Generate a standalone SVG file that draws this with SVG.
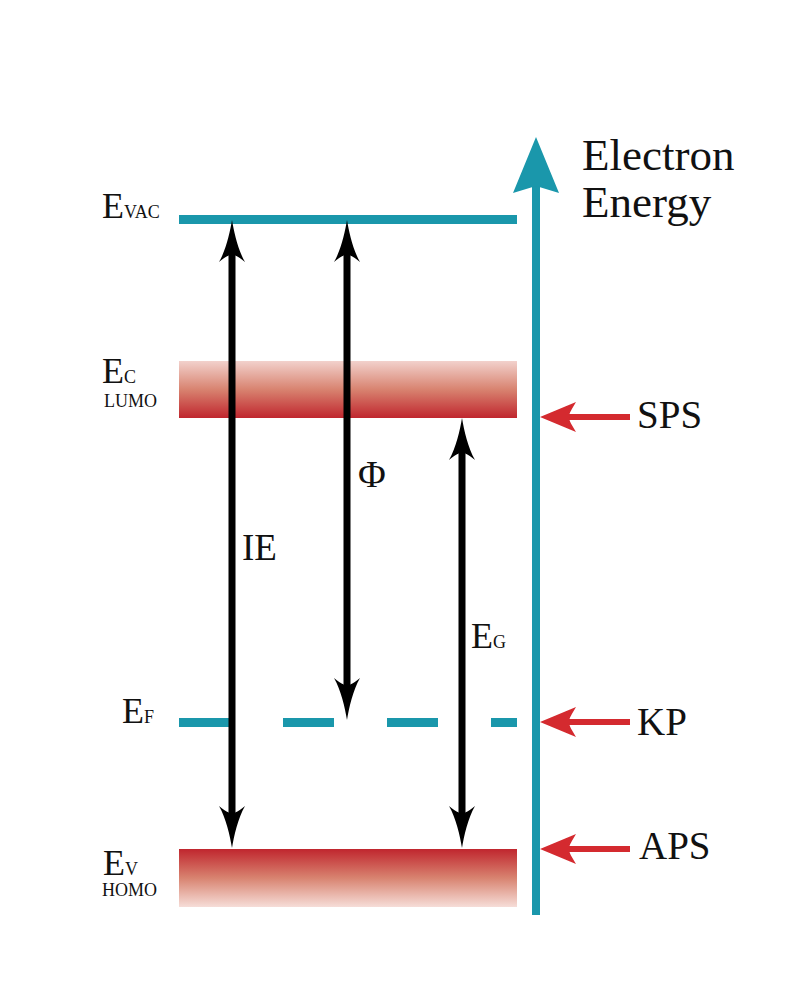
<svg xmlns="http://www.w3.org/2000/svg" width="800" height="1000" viewBox="0 0 800 1000">
  <style>
    .lbl { font-family: "Liberation Serif", "Times New Roman", serif; fill: #111; }
    .big { font-size: 36px; }
    .sc { font-size: 18px; }
    .sub { font-size: 18px; }
    .side { font-size: 39px; }
    .title { font-size: 45px; }
    .teal { stroke: #1a97ab; fill: none; }
    .blkarrow { stroke: #000; stroke-width: 7; fill: none; }
    .redarrow { stroke: #d42a2f; stroke-width: 6; fill: none; }
  </style>
  <defs>
    <linearGradient id="lumoGrad" x1="0" y1="0" x2="0" y2="1">
      <stop offset="0" stop-color="#f2d1cc"/>
      <stop offset="0.5" stop-color="#d88370"/>
      <stop offset="1" stop-color="#c0262e"/>
    </linearGradient>
    <linearGradient id="homoGrad" x1="0" y1="0" x2="0" y2="1">
      <stop offset="0" stop-color="#c0262e"/>
      <stop offset="0.5" stop-color="#d88370"/>
      <stop offset="1" stop-color="#f6ddd8"/>
    </linearGradient>
    <marker id="blk" viewBox="0 -14 43 28" refX="12" refY="0" markerWidth="43" markerHeight="28" markerUnits="userSpaceOnUse" orient="auto-start-reverse">
      <path d="M42,0 C30,-2 12,-6 0,-13 C5,-7 7,-3 8,0 C7,3 5,7 0,13 C12,6 30,2 42,0 Z" fill="#000"/>
    </marker>
    <marker id="red" viewBox="0 -16 37 32" refX="10" refY="0" markerWidth="37" markerHeight="32" markerUnits="userSpaceOnUse" orient="auto">
      <path d="M36,0 L0,-15 C4,-8 7,-4 7,0 C7,4 4,8 0,15 Z" fill="#d42a2f"/>
    </marker>
  </defs>

  <!-- Energy axis -->
  <g id="axis">
    <line class="teal" x1="536" y1="915" x2="536" y2="186" stroke-width="8"/>
    <polygon points="536,137 559,193 536,186 513,193" fill="#1a97ab"/>
    <text class="lbl title" x="582" y="170">Electron</text>
    <text class="lbl title" x="582" y="217">Energy</text>
  </g>

  <!-- Levels -->
  <g id="evac">
    <line class="teal" x1="179" y1="219.5" x2="517" y2="219.5" stroke-width="9"/>
    <text class="lbl" x="102" y="218"><tspan class="big">E</tspan><tspan class="sc">VAC</tspan></text>
  </g>
  <g id="lumo">
    <rect x="179" y="361" width="338" height="57" fill="url(#lumoGrad)"/>
    <text class="lbl" x="102" y="383"><tspan class="big">E</tspan><tspan class="sc">C</tspan></text>
    <text class="lbl sub" x="104" y="407">LUMO</text>
  </g>
  <g id="ef">
    <line class="teal" x1="179" y1="722.5" x2="517" y2="722.5" stroke-width="9" stroke-dasharray="51 53"/>
    <text class="lbl" x="122" y="723"><tspan class="big">E</tspan><tspan class="sc">F</tspan></text>
  </g>
  <g id="homo">
    <rect x="179" y="849" width="338" height="58" fill="url(#homoGrad)"/>
    <text class="lbl" x="103" y="875"><tspan class="big">E</tspan><tspan class="sc">V</tspan></text>
    <text class="lbl sub" x="102" y="896">HOMO</text>
  </g>

  <!-- Connectors -->
  <g id="connectors">
    <line class="blkarrow" x1="232" y1="250" x2="232" y2="818" marker-start="url(#blk)" marker-end="url(#blk)"/>
    <line class="blkarrow" x1="347" y1="250" x2="347" y2="690" marker-start="url(#blk)" marker-end="url(#blk)"/>
    <line class="blkarrow" x1="462" y1="448" x2="462" y2="818" marker-start="url(#blk)" marker-end="url(#blk)"/>
    <line class="redarrow" x1="630" y1="417" x2="566" y2="417" marker-end="url(#red)"/>
    <line class="redarrow" x1="630" y1="722" x2="566" y2="722" marker-end="url(#red)"/>
    <line class="redarrow" x1="630" y1="849" x2="566" y2="849" marker-end="url(#red)"/>
  </g>

  <!-- Arrow labels -->
  <g id="ie"><text class="lbl" x="242" y="560" font-size="37">IE</text></g>
  <g id="phi"><text class="lbl" x="358" y="487" font-size="38">Φ</text></g>
  <g id="eg"><text class="lbl" x="471" y="648"><tspan class="big">E</tspan><tspan class="sc">G</tspan></text></g>
  <g id="sps"><text class="lbl side" x="637" y="428">SPS</text></g>
  <g id="kp"><text class="lbl side" x="637" y="735">KP</text></g>
  <g id="aps"><text class="lbl side" x="639" y="859">APS</text></g>
</svg>
